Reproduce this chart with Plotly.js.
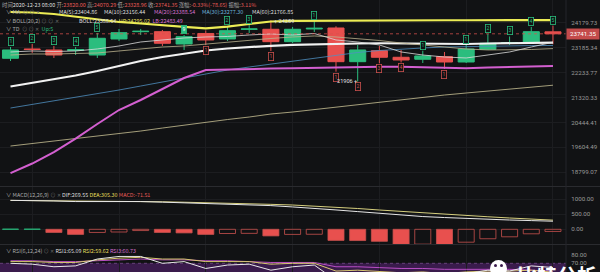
<!DOCTYPE html>
<html><head><meta charset="utf-8">
<script src="https://cdn.plot.ly/plotly-3.0.1.min.js"></script>
<style>html,body{margin:0;padding:0;background:#111214;overflow:hidden}#chart{width:600px;height:272px}</style>
</head><body><div id="chart"></div>
<script>
// ---------- data ----------
const candleNo = [0,1,2,3,4,5,6,7,8,9,10,11,12,13,14,15,16,17,18,19,20,21,22,23,24,25];
const openP  = [22780,23141,23102,23082,22907,23535,23827,23827,23337,23755,23535,23924,23924,23428,23936,23976,22650,23074,22819,22742,22842,22638,23129,23357,23396,23820.00];
const highP  = [23219,23337,23258,23219,23775,23936,23936,23896,23695,23875,24045,24098,24289,24017,24261,24045,23298,23258,23102,23074,23024,23298,23735,23634,24017,24070.29];
const lowP   = [22676,22985,22792,22907,22792,23456,23695,23258,23102,23298,23456,23775,23063,23376,23815,22270,21906,22588,22619,22600,22372,22600,23102,23298,23357,23328.96];
const closeP = [23102,23121,22907,23113,23563,23787,23843,23365,23627,23495,23867,23936,23428,23924,23964,22650,23102,22819,22715,22869,22638,23141,23365,23396,23827,23741.35];

const ma5  = [23024,23063,23043,23063,23141,23258,23416,23495,23575,23615,23635,23695,23735,23695,23755,23495,23416,23298,23024,22907,22830,22792,22907,23024,23219,23404.86];
const ma10 = [22907,22946,22946,22965,22985,23063,23141,23219,23258,23337,23416,23495,23555,23615,23655,23615,23555,23475,23376,23298,23219,23141,23102,23102,23121,23156.44];
const ma30 = [20945,21070,21194,21338,21446,21592,21738,21886,22034,22184,22334,22447,22562,22676,22792,22907,23004,23082,23141,23180,23219,23239,23258,23266,23274,23277.30];
const ma60 = [19643,19726,19810,19877,19961,20045,20147,20249,20352,20456,20542,20629,20734,20804,20892,20981,21070,21159,21248,21338,21410,21483,21556,21629,21702,21766.85];
const bollUp  = [24633,24612,24550,24447,24323,24221,24159,24078,24017,23964,24029,24139,24241,24262,24270,24280,24284,24287,24289,24290,24291,24292,24293,24294,24295,24295.02];
const bollMid = [21720,21849,21978,22128,22296,22485,22676,22830,22965,23082,23160,23219,23266,23298,23325,23345,23357,23365,23357,23345,23337,23337,23357,23376,23392,23388.54];
const bollLow = [18767,19071,19445,19893,20387,20875,21231,21629,22034,22334,22360,22372,22387,22399,22418,22429,22448,22459,22456,22437,22418,22399,22429,22448,22467,22483.49];

const tdUp   = ['1','2','3','4','5','','','','9','','2','3','','','1','','','','','1','','1','2','3','4','5'];
const tdDown = ['','','','','','','','','','1','','','1','','','1','2','3','4','','1','','','','',''];

const difV  = [965,962,945,925,930,928,925,905,885,860,843,825,790,745,705,645,590,530,475,425,392,358,335,310,290,269.55];
const deaV  = [963,959,955,951,947,943,930,917,903,890,877,855,832,810,777,743,693,643,593,543,502,460,418,377,341,305.30];
const macdHist = [8,8,-105,-170,-105,-90,-42,-105,-120,-170,-140,-135,-220,-170,-165,-370,-375,-400,-500,-495,-505,-430,-315,-250,-150,-71.51];

const rsi1 = [70,69,66,67,75,78,78,70,72,64,68,69,62,66,68,50,55,50,49,53,50,58,62,61,67,65.09];
const rsi2 = [72,72,71,71,74,76,77,75,75,72,72,72,69,70,70,61,62,60,59,60,58,60,61,61,62,59.62];
const rsi3 = [73,73,72,72,73,74,75,74,74,73,73,72,71,71,71,66,66,65,64,64,63,63,63,63,62,60.73];

const priceTicks = [24179.73,23185.34,22233.77,21320.33,20444.41,19604.49,18799.07];
const macdTicks = [0,500,1000];
const rsiTicks = [60,70,80];
const highMark = 24289, lowMark = 21906;

// ---------- styling / layout helpers ----------
const W=600,H=272,PW=566;
const fx = p => p/PW, fy = p => 1 - p/H;
const UP='#2bbd7e', DN='#e8504e', DNL='#c9504e', BG='#111214', GRID='#1c1d20', TXT='#9a9a9a';
const FONT='Roboto, "Noto Sans CJK SC", sans-serif';
const CJK='"Noto Sans CJK SC", Roboto, sans-serif';
const last = candleNo.length-1;
const f2 = v => Number(v).toFixed(2);
const xr = [-0.484, 25.6];

const line = (y, color, width, yaxis='y') => ({type:'scatter', mode:'lines', x:candleNo, y, yaxis, line:{color, width}, hoverinfo:'skip', showlegend:false});

const traces = [
  line(ma60,'#c9c294',0.8), line(ma30,'#4f8fc0',0.8),
  line(bollLow,'#d35fd0',2), line(bollMid,'#f2f2f2',2.2), line(bollUp,'#ecec55',2.2),
  line(ma10,'#bdb48f',0.8), line(ma5,'#dcdcdc',0.8),
  {type:'scatter', mode:'lines', x:xr, y:[closeP[last],closeP[last]], line:{color:'rgba(215,80,78,0.75)', width:1, dash:'dot'}, hoverinfo:'skip', showlegend:false},
  {type:'candlestick', x:candleNo, open:openP, high:highP, low:lowP, close:closeP,
   increasing:{line:{color:UP,width:1}, fillcolor:UP}, decreasing:{line:{color:DN,width:1}, fillcolor:DN},
   whiskerwidth:0, hoverinfo:'skip', showlegend:false},
  {type:'bar', x:candleNo, y:macdHist, yaxis:'y2', width:0.74,
   marker:{color: macdHist.map((v,i)=> v>=0 ? UP : (i===0 || v < macdHist[i-1] ? DN : 'rgba(0,0,0,0)')),
           line:{color: macdHist.map(v=> v>=0 ? UP : DNL), width:0.8}}, hoverinfo:'skip', showlegend:false},
  line(deaV,'#d6cf7e',1,'y2'), line(difV,'#e6e6e6',1,'y2'),
  line(rsi3,'#b94fc4',1,'y3'), line(rsi2,'#d8c870',1,'y3'), line(rsi1,'#e8e8e8',1,'y3')
];

const ann = [];
const txt = (x,y,text,opt={}) => ann.push(Object.assign({xref:'paper',yref:'paper',x:fx(x),y:fy(y),xanchor:'left',yanchor:'middle',text,showarrow:false,font:{family:CJK,size:5.4,color:'#c8c8c8'}},opt));
const sp = (c,t) => `<span style="color:${c}">${t}</span>`;
const RED='#e35a57', GRY='#a9a9a9', YEL='#e4de5c', PNK='#d671cf', BLU='#6fb2dc', WHT='#dedede';

// header line 1 (one flowing line)
const chg = closeP[last]-openP[last];
txt(0,4.5,
  sp(GRY,'时间')+sp(WHT,'2020-12-23 08:00')+' '+
  sp(GRY,'开:')+sp(RED,f2(openP[last]))+' '+
  sp(GRY,'高:')+sp(RED,f2(highP[last]))+' '+
  sp(GRY,'低:')+sp(RED,f2(lowP[last]))+' '+
  sp(GRY,'收:')+sp(RED,f2(closeP[last]))+' '+
  sp(GRY,'涨幅:')+sp(RED,(chg/openP[last]*100).toFixed(2)+'%('+f2(chg)+')')+' '+
  sp(GRY,'振幅:')+sp(RED,'3.11%'));
// line 2
txt(4,12.5, sp(GRY,'∨ MA')+sp('#6b6b6b','  ⊙ ⊙ ✕'));
txt(57,12.5, sp(WHT,'MA(5):'+f2(ma5[last])));
txt(102,12.5, sp(WHT,'MA(10):'+f2(ma10[last])));
txt(152,12.5, sp(PNK,'MA(20):'+f2(bollMid[last])));
txt(200,12.5, sp(BLU,'MA(30):'+f2(ma30[last])));
txt(250,12.5, sp(WHT,'MA(60):'+f2(ma60[last])));
// line 3
txt(4,20.8, sp(GRY,'∨ BOLL(20,2)')+sp('#6b6b6b',' ⊙ ⊙ ✕'));
txt(77,20.8, sp(WHT,'BOLL:'+f2(bollMid[last]))+'  '+sp(YEL,'UP:'+f2(bollUp[last]))+'  '+sp(PNK,'LB:'+f2(bollLow[last])));
// line 4
txt(4,29.3, sp(GRY,'∨ TD')+sp('#6b6b6b','  ⊙ ⊙ ✕')+'  '+sp(UP,'Up:5'));
// MACD header
txt(4,195.3, sp(GRY,'∨ MACD(12,26,9)')+sp('#6b6b6b',' ⊙ ✕')+' '+sp(WHT,'DIF:'+f2(difV[last]))+' '+sp(YEL,'DEA:'+f2(deaV[last]))+' '+sp(RED,'MACD:'+f2(macdHist[last])));
// RSI header
txt(4,251.3, sp(GRY,'∨ RSI(6,12,24)')+sp('#6b6b6b',' ⊙ ✕')+' '+sp(WHT,'RSI1:'+f2(rsi1[last]))+' '+sp(YEL,'RSI2:'+f2(rsi2[last]))+' '+sp(PNK,'RSI3:'+f2(rsi3[last])));

// TD markers
candleNo.forEach(i=>{
  if (tdUp[i]) {
    const nine = tdUp[i]==='9';
    ann.push({x:i, y:Math.log10(highP[i]), xref:'x', yref:'y', text:tdUp[i], showarrow:false, yanchor:'bottom', yshift:1,
      font:{family:FONT,size:5,color: nine ? '#ffffff' : UP}, bordercolor:UP, borderwidth:0.8, borderpad:0.6,
      bgcolor: nine ? UP : BG});
  }
  if (tdDown[i]) {
    ann.push({x:i, y:Math.log10(lowP[i]), xref:'x', yref:'y', text:tdDown[i], showarrow:false, yanchor:'top', yshift:-1,
      font:{family:FONT,size:5,color:DNL}, bordercolor:DNL, borderwidth:0.8, borderpad:0.6, bgcolor:BG});
  }
});
// high / low marks
ann.push({x:highP.indexOf(highMark), y:Math.log10(highMark), xref:'x', yref:'y', text:'+ '+highMark, showarrow:false, xanchor:'left', xshift:1, yshift:-1, font:{family:FONT,size:5.6,color:'#e0e0e0'}});
ann.push({x:lowP.indexOf(lowMark), y:Math.log10(lowMark), xref:'x', yref:'y', text:lowMark+' +', showarrow:false, xanchor:'right', xshift:1, font:{family:FONT,size:5.6,color:'#e0e0e0'}});
// last price tag
ann.push({xref:'paper', x:1, xanchor:'left', yref:'y', y:Math.log10(closeP[last]), text:f2(closeP[last]), showarrow:false,
  bgcolor:'#c44b4b', font:{family:FONT,size:6.2,color:'#ffffff'}, borderpad:1.2, width:30});
// watermark
ann.push({xref:'paper', yref:'paper', x:fx(515), y:fy(259), xanchor:'left', yanchor:'top', text:'<b>比特分析</b>', showarrow:false,
  font:{family:CJK,size:20,color:'#ffffff'}});

const shapes = [
  {type:'rect', xref:'paper', x0:0, x1:1, yref:'y3', y0:30, y1:70, fillcolor:'#3a1b4c', line:{width:0}, layer:'below'},
  {type:'line', xref:'paper', x0:0, x1:1, yref:'y3', y0:70, y1:70, line:{color:'#66407a', width:1, dash:'dot'}, layer:'below'},
  {type:'line', xref:'paper', x0:0, x1:W/PW, yref:'paper', y0:fy(186.5), y1:fy(186.5), line:{color:'#2a2b2f', width:1}},
  {type:'line', xref:'paper', x0:0, x1:W/PW, yref:'paper', y0:fy(244.5), y1:fy(244.5), line:{color:'#2a2b2f', width:1}},
  {type:'line', xref:'paper', x0:1, x1:1, yref:'paper', y0:0, y1:1, line:{color:'#24252a', width:1}},
  {type:'circle', xref:'paper', yref:'paper', x0:fx(490), x1:fx(507), y0:fy(277), y1:fy(260), fillcolor:'#ffffff', line:{width:0}},
  {type:'circle', xref:'paper', yref:'paper', x0:fx(494), x1:fx(497), y0:fy(267), y1:fy(264), fillcolor:'#3a1b4c', line:{width:0}},
  {type:'circle', xref:'paper', yref:'paper', x0:fx(500), x1:fx(503), y0:fy(267), y1:fy(264), fillcolor:'#3a1b4c', line:{width:0}}
];

const yax = (domain, range, tv, extra={}) => Object.assign({domain, range, side:'right', anchor:'x', tickvals:tv, ticktext:tv.map(f2),
  tickfont:{family:FONT,size:6.2,color:TXT}, gridcolor:GRID, gridwidth:1, zeroline:false, showline:false,
  ticks:'outside', ticklen:3, tickcolor:'rgba(0,0,0,0)', fixedrange:true}, extra);

const layout = {
  width:W, height:H, margin:{l:0,r:W-PW,t:0,b:0}, paper_bgcolor:BG, plot_bgcolor:BG,
  font:{family:FONT, color:TXT}, showlegend:false, boxgap:0.26, boxgroupgap:0, bargap:0.26,
  xaxis:{range:xr, showticklabels:false, tickvals:[1,5,9,13,17,21,25], gridcolor:GRID, zeroline:false, showline:false,
         rangeslider:{visible:false}, fixedrange:true, ticks:''},
  yaxis: yax([fy(186),1], [4.2639,4.4003], priceTicks, {type:'log'}),
  yaxis2: yax([fy(244),fy(187)], [-490,1410], macdTicks),
  yaxis3: yax([0,fy(245)], [59.9,91.3], rsiTicks, {showgrid:false}),
  annotations: ann, shapes
};

Plotly.newPlot('chart', traces, layout, {staticPlot:true, displayModeBar:false});
</script>
</body></html>
